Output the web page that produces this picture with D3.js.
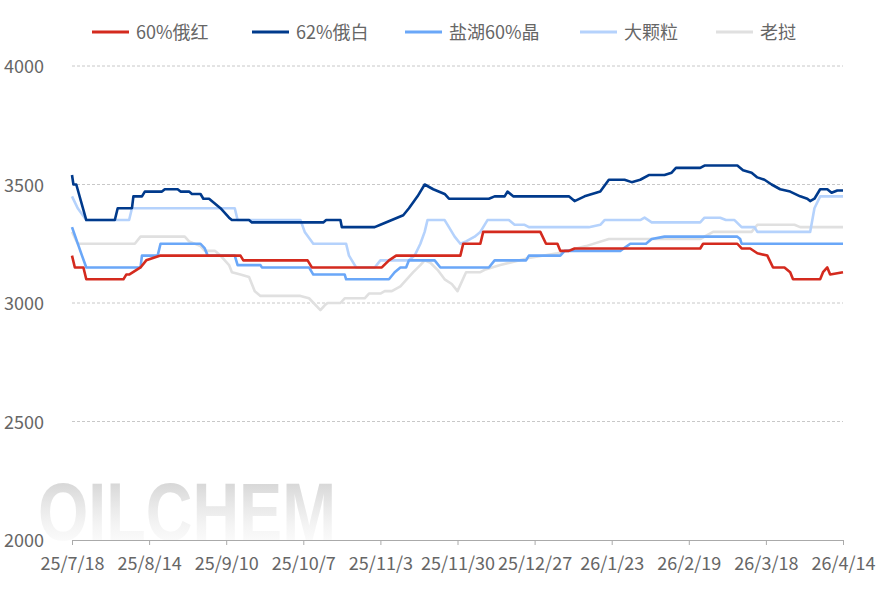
<!DOCTYPE html><html><head><meta charset="utf-8">
<script src="https://cdn.jsdelivr.net/npm/d3@7/dist/d3.min.js"></script>
<style>body{margin:0;background:#fff}text{font-family:"Noto Sans CJK SC","Noto Sans",sans-serif}</style></head><body>
<svg id="c" width="886" height="591"></svg>
<script>
const names=["60%俄红","62%俄白","盐湖60%晶","大颗粒","老挝"];
const colors=["#d42a1e","#003a8c","#6aa7f8","#b5d2fc","#e0e0e0"];
const xTickLabels=["25/7/18","25/8/14","25/9/10","25/10/7","25/11/3","25/11/30","25/12/27","26/1/23","26/2/19","26/3/18","26/4/14"];
const yTicks=[2000,2500,3000,3500,4000];
// [day offset from 25/7/18, price]
const red=[[0,3200],[1,3150],[4,3150],[5,3100],[18,3100],[19,3120],[20,3120],[24,3150],[26,3180],[31,3200],[59,3200],[60,3180],[82.5,3180],[84,3150],[108.5,3150],[111,3180],[113.5,3200],[136,3200],[137,3250],[143,3250],[144,3300],[164,3300],[166,3250],[170,3250],[171,3220],[174,3220],[176,3230],[220,3230],[221,3250],[233,3250],[234.5,3230],[237.5,3230],[240,3210],[243.5,3200],[245.5,3150],[249.5,3150],[251.5,3130],[252.5,3100],[262,3100],[263,3130],[264.5,3150],[265.5,3120],[270,3130]];
const white=[[0,3540],[0.5,3500],[1.5,3500],[5,3350],[15,3350],[16,3400],[21,3400],[21.5,3450],[24.5,3450],[25.5,3470],[31.5,3470],[32.5,3480],[37,3480],[38,3470],[41,3470],[42,3460],[45,3460],[46,3440],[48,3440],[52,3400],[55,3360],[56,3350],[62,3350],[63,3340],[88,3340],[89,3350],[94,3350],[94.5,3320],[106,3320],[108,3330],[112,3350],[116,3370],[118,3400],[121,3450],[123.5,3500],[126.5,3480],[130.5,3460],[132,3440],[146,3440],[148,3450],[151.5,3450],[152.5,3470],[154.5,3450],[174,3450],[176,3430],[179.5,3450],[185,3470],[188,3520],[193.5,3520],[196,3510],[199,3520],[202,3540],[207.5,3540],[210,3550],[211.5,3570],[220,3570],[221.5,3580],[233,3580],[235,3560],[238,3550],[240,3530],[242.5,3520],[245,3500],[248,3480],[251.5,3470],[255,3450],[257.5,3440],[258.5,3430],[260,3440],[262,3480],[264.5,3480],[266,3465],[268,3475],[270,3475]];
const salt=[[0,3320],[3.5,3200],[5,3150],[24,3150],[24.5,3200],[30,3200],[31,3250],[45,3250],[46.5,3230],[47.5,3200],[57,3200],[58,3160],[66,3160],[66.5,3150],[83,3150],[84.5,3120],[95.5,3120],[96,3100],[111,3100],[113,3130],[115,3150],[117,3150],[118,3180],[127,3180],[129,3150],[146,3150],[148,3180],[159,3180],[160,3200],[171,3200],[172.5,3220],[192,3220],[195.5,3250],[201,3250],[203,3270],[207.5,3280],[233,3280],[234,3270],[234.5,3250],[270,3250]];
const large=[[0,3450],[2,3400],[5,3350],[20,3350],[21,3400],[57,3400],[58,3350],[80,3350],[81.5,3300],[84.5,3250],[96,3250],[97,3200],[99.5,3150],[106,3150],[108,3180],[118,3180],[120,3200],[122,3250],[123.5,3300],[124.5,3350],[130.5,3350],[132,3320],[134,3280],[136,3250],[138,3260],[141,3280],[143,3300],[145.5,3350],[153,3350],[155,3330],[158.5,3330],[160,3320],[181,3320],[185,3330],[186.5,3350],[199,3350],[200.5,3360],[203,3340],[220,3340],[221.5,3360],[227,3360],[229,3350],[232,3350],[234.5,3320],[239,3320],[240,3300],[258.5,3300],[260,3400],[262,3450],[270,3450]];
const laos=[[0,3300],[2,3250],[22,3250],[24,3280],[39.5,3280],[41,3260],[45,3240],[46.5,3220],[50,3220],[52,3200],[55,3160],[56,3130],[59,3120],[62,3110],[64,3050],[66,3030],[80,3030],[83,3020],[87,2970],[88.5,2990],[89.5,3000],[94,3000],[95.5,3020],[102.5,3020],[104,3040],[108,3040],[109.5,3050],[112,3050],[115,3070],[116.5,3090],[119.5,3130],[122,3160],[123.5,3180],[125.5,3170],[128,3140],[130.5,3100],[133,3080],[135,3050],[138,3130],[143,3130],[144.5,3140],[150,3160],[160,3190],[170,3210],[180,3240],[188,3270],[220,3270],[224.5,3300],[238,3300],[240,3330],[253,3330],[255,3320],[270,3320]];
const series=[red,white,salt,large,laos];

const svg=d3.select("#c");
const x=d3.scaleLinear().domain([0,270]).range([72,843]);
const y=d3.scaleLinear().domain([2000,4000]).range([540,66]);

const defs=svg.append("defs");
const g=defs.append("linearGradient").attr("id","wm").attr("x1",0).attr("y1",0).attr("x2",0).attr("y2",1);
g.append("stop").attr("offset",0).attr("stop-color","#9a9a9a").attr("stop-opacity",0.55);
g.append("stop").attr("offset",1).attr("stop-color","#ffffff").attr("stop-opacity",0.2);
svg.append("text").attr("x",38).attr("y",540).attr("textLength",298).attr("lengthAdjust","spacingAndGlyphs")
 .attr("fill","url(#wm)").style("font-family","Liberation Sans").style("font-size","82px").style("font-weight","bold").text("OILCHEM");

svg.append("g").selectAll("line").data(yTicks.filter(d=>d>2000)).join("line")
 .attr("x1",72).attr("x2",843).attr("y1",d=>y(d)).attr("y2",d=>y(d))
 .attr("stroke","#c8c8c8").attr("stroke-dasharray","3,2");
svg.append("g").selectAll("text").data(yTicks).join("text")
 .attr("x",4).attr("y",d=>y(d)+7).attr("fill","#666").style("font-size","18px").text(d=>d);

const xa=svg.append("g").attr("transform","translate(0,540)")
 .call(d3.axisBottom(x).tickValues(d3.range(0,271,27)).tickSize(5).tickFormat((d,i)=>xTickLabels[i]));
xa.select(".domain").attr("stroke","#aaa");
xa.selectAll(".tick line").attr("stroke","#aaa");
xa.selectAll(".tick text").attr("fill","#666").style("font-size","18px").attr("dy","1.2em")
 .style("font-family","'Noto Sans CJK SC',sans-serif");

const line=d3.line().x(d=>x(d[0])).y(d=>y(d[1]));
[4,3,2,0,1].forEach(i=>{
 svg.append("path").datum(series[i]).attr("d",line).attr("fill","none")
  .attr("stroke",colors[i]).attr("stroke-width",2.6).attr("stroke-linejoin","round");
});

const lx=[92,252,405,580,716];
const lg=svg.append("g").selectAll("g").data(names).join("g").attr("transform",(d,i)=>`translate(${lx[i]},32)`);
lg.append("line").attr("x1",0).attr("x2",37).attr("stroke",(d,i)=>colors[i]).attr("stroke-width",3);
lg.append("text").attr("x",44).attr("y",7).attr("fill","#666").style("font-size","18px").text(d=>d);
</script></body></html>
